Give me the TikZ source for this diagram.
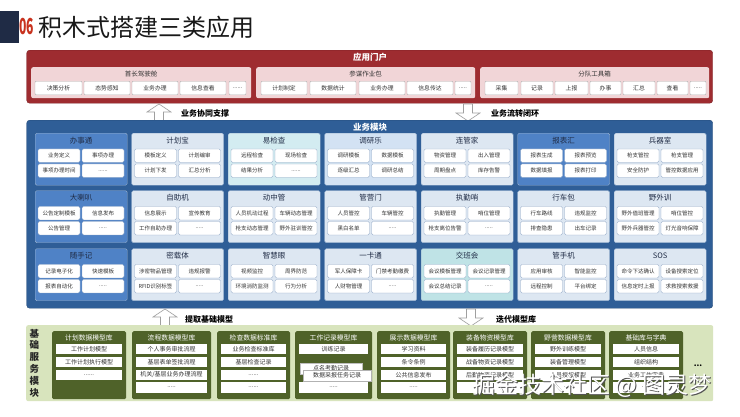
\documentclass[tikz,border=0pt]{standalone}
\usepackage{fontspec}
\setmainfont{Noto Sans CJK SC}
\usetikzlibrary{calc}
\definecolor{navy}{HTML}{1F2B45}
\definecolor{titlered}{HTML}{C8321E}
\definecolor{portalred}{HTML}{9E2C30}
\definecolor{portalpink}{HTML}{F1D5D7}
\definecolor{modblue}{HTML}{2F5E97}
\definecolor{modlight}{HTML}{DDE7F2}
\definecolor{modhl}{HTML}{4F82C6}
\definecolor{modteal}{HTML}{D3ECF1}
\definecolor{modteal2}{HTML}{BFE3E6}
\definecolor{modsky}{HTML}{D3E2F3}
\definecolor{basegreen}{HTML}{D8E4BD}
\definecolor{baseolive}{HTML}{4F6229}
\definecolor{txtgray}{HTML}{333333}
\definecolor{btnborder}{HTML}{8FA6C4}
\tikzset{
  pbtn/.style={draw=gray!60, fill=white, rounded corners=1pt, minimum height=13.5pt, inner sep=0pt, font=\fontsize{5.8}{6}\selectfont, text=txtgray},
  plabel/.style={font=\fontsize{6.5}{7}\selectfont, text=txtgray, inner sep=0pt},
  ppanel/.style={fill=portalpink, rounded corners=2pt, inner sep=0pt, anchor=north west, minimum height=31pt},
  modbox/.style={draw=modlight!60!modblue, line width=0.4pt, rounded corners=1.5pt, minimum width=92pt, minimum height=52pt, inner sep=0pt, anchor=north west},
  mlight/.style={modbox, fill=modlight},
  mhl/.style={modbox, fill=modhl},
  mteal/.style={modbox, fill=modteal},
  mteal2/.style={modbox, fill=modteal2},
  msky/.style={modbox, fill=modsky},
  mtitle/.style={font=\fontsize{7.5}{8}\selectfont, text=navy, inner sep=0pt},
  mbtn/.style={draw=btnborder, fill=white, rounded corners=1.5pt, minimum width=42pt, minimum height=13.5pt, inner sep=0pt, font=\fontsize{5.5}{6}\selectfont, text=txtgray},
  bbox/.style={fill=baseolive, rounded corners=1.5pt, inner sep=0pt, anchor=north west, minimum height=68pt},
  btitle/.style={text=white, font=\fontsize{6.8}{7}\selectfont, inner sep=0pt},
  bitem/.style={fill=white, minimum height=10.5pt, inner sep=0pt, font=\fontsize{6}{6}\selectfont, text=txtgray},
  barrow/.style={draw=gray!75, fill=white, line width=0.6pt},
  alabel/.style={font=\bfseries\fontsize{8}{8}\selectfont, text=black, inner sep=0pt, anchor=west},
  wmark/.style={font=\fontsize{23}{23}\selectfont, inner sep=0pt},
}
\newcommand\pb[4]{\node[pbtn, minimum width={#3pt-#2pt}] (#1) at ({(#2+#3)/2},88) {#4};}
\newcommand\bi[5]{\node[bitem, minimum width={#3pt-#2pt}] (#1) at ({(#2+#3)/2},#4) {#5};}
\newcommand\modul[9]{%
  \node[#4] (#1) at (#2,#3) {};
  \node[mtitle] (#1t) at ($(#1.north)+(0,7.5)$) {#5};
  \node[mbtn] (#1a) at ($(#1.north west)+(24,22.7)$) {#6};
  \node[mbtn] (#1b) at ($(#1.north west)+(68,22.7)$) {#7};
  \node[mbtn] (#1c) at ($(#1.north west)+(24,37.7)$) {#8};
  \node[mbtn] (#1d) at ($(#1.north west)+(68,37.7)$) {#9};
}
\newcommand\blockup[3]{\draw[barrow] (#1,#2) -- ({#1+12},{#2+8}) -- ({#1+4.5},{#2+8}) -- ({#1+4.5},#3) -- ({#1-4.5},#3) -- ({#1-4.5},{#2+8}) -- ({#1-12},{#2+8}) -- cycle;}
\newcommand\blockdown[3]{\draw[barrow] (#1,#3) -- ({#1+12},{#3-8}) -- ({#1+4.5},{#3-8}) -- ({#1+4.5},#2) -- ({#1-4.5},#2) -- ({#1-4.5},{#3-8}) -- ({#1-12},{#3-8}) -- cycle;}
\begin{document}
\begin{tikzpicture}[x=1pt,y=-1pt]
\useasboundingbox[fill=white] (0,0) rectangle (740,416);
% title
\fill[navy] (0,11) rectangle (19,43);
\node[text=titlered, font=\bfseries\fontsize{22}{22}\selectfont, inner sep=0pt, anchor=west, xscale=0.55, transform shape] (num) at (19.5,27) {06};
\node[font=\fontsize{24}{24}\selectfont, text=black!90, inner sep=0pt, anchor=west] (title) at (38,27) {积木式搭建三类应用};
% portal
\node[fill=portalred, draw=portalred!80!black, rounded corners=3pt, minimum width=686pt, minimum height=53pt, anchor=north west, inner sep=0pt] (portal) at (26.5,50) {};
\node[text=white, font=\bfseries\fontsize{8.5}{9}\selectfont, inner sep=0pt] (portalt) at (370,57.5) {应用门户};
\node[ppanel, minimum width=220pt] (pp1) at (31,67) {};
\node[ppanel, minimum width=219pt] (pp2) at (256,67) {};
\node[ppanel, minimum width=229pt] (pp3) at (480,67) {};
\node[plabel] (pp1t) at (141,74) {首长驾驶舱};
\node[plabel] (pp2t) at (365.5,74) {参谋作业包};
\node[plabel] (pp3t) at (594.5,74) {分队工具箱};
\pb{p1a}{35}{82}{决策分析}
\pb{p1b}{84}{130}{态势感知}
\pb{p1c}{132}{178}{业务办理}
\pb{p1d}{180}{226}{信息查看}
\pb{p1e}{229}{246}{......}
\pb{p2a}{261}{307}{计划制定}
\pb{p2b}{310}{356}{数据统计}
\pb{p2c}{359}{405}{业务办理}
\pb{p2d}{407}{453}{信息传达}
\pb{p2e}{455}{471}{.....}
\pb{p3a}{485}{518}{采集}
\pb{p3b}{521}{553}{记录}
\pb{p3c}{555}{588}{上报}
\pb{p3d}{590}{621}{办事}
\pb{p3e}{623}{655}{汇总}
\pb{p3f}{657}{688}{查看}
\pb{p3g}{690}{706}{.....}
% arrows top
\blockup{159}{104}{121}
\node[alabel] (a1) at (181,113) {业务协同支撑};
\blockdown{468}{104}{121}
\node[alabel] (a2) at (491,113) {业务流转闭环};
% module panel
\node[fill=modblue, draw=modblue!80!black, rounded corners=3pt, minimum width=686pt, minimum height=188pt, anchor=north west, inner sep=0pt] (mods) at (26.5,120) {};
\node[text=white, font=\bfseries\fontsize{8.5}{9}\selectfont, inner sep=0pt] (modst) at (370,127) {业务模块};
% row 1
\modul{m11}{35}{133}{mhl}{办事通}{业务定义}{事项办理}{事项办理时间}{......}
\modul{m12}{131.5}{133}{mlight}{计划宝}{模板定义}{计划编审}{计划下发}{汇总分析}
\modul{m13}{228}{133}{mteal}{易检查}{远程检查}{现场检查}{结果分析}{......}
\modul{m14}{324.5}{133}{msky}{调研乐}{调研模板}{数据模板}{逐级汇总}{调研总结}
\modul{m15}{421}{133}{mlight}{连管家}{物资管理}{出入管理}{周期盘点}{库存告警}
\modul{m16}{517.5}{133}{mhl}{报表汇}{报表生成}{报表预览}{数据填报}{报表打印}
\modul{m17}{614}{133}{mlight}{兵器室}{枪支管控}{枪支管理}{安全防护}{管控数据应用}
% row 2
\modul{m21}{35}{190.5}{mhl}{大喇叭}{公告定制模板}{信息发布}{公告管理}{.....}
\modul{m22}{131.5}{190.5}{mlight}{自助机}{信息展示}{宣传教育}{工作自助办理}{.....}
\modul{m23}{228}{190.5}{mlight}{动中管}{人员机动过程}{车辆动态管理}{枪支动态管理}{野外驻训管控}
\modul{m24}{324.5}{190.5}{mlight}{管营门}{人员管控}{车辆管控}{黑白名单}{.....}
\modul{m25}{421}{190.5}{mlight}{执勤哨}{执勤管理}{哨位管理}{枪支离位告警}{.....}
\modul{m26}{517.5}{190.5}{mlight}{行车包}{行车路线}{违规监控}{排查隐患}{出车记录}
\modul{m27}{614}{190.5}{mlight}{野外训}{野外值班管理}{哨位管控}{野外兵器管控}{灯光音响保障}
% row 3
\modul{m31}{35}{248.5}{mhl}{随手记}{记录电子化}{快速模板}{报表自动化}{.....}
\modul{m32}{131.5}{248.5}{mlight}{密载体}{涉密物品管理}{违规报警}{RFID识别标签}{.....}
\modul{m33}{228}{248.5}{mlight}{智慧眼}{视频监控}{周界防范}{环境消防监测}{行为分析}
\modul{m34}{324.5}{248.5}{mlight}{一卡通}{军人保障卡}{门禁考勤缴费}{人财物管理}{.....}
\modul{m35}{421}{248.5}{mteal2}{交班会}{会议模板管理}{会议记录管理}{会议总结记录}{.....}
\modul{m36}{517.5}{248.5}{mlight}{管手机}{应用审核}{智能监控}{远程控制}{平台绑定}
\modul{m37}{614}{248.5}{mlight}{SOS}{命令下达确认}{设备搜索定位}{信息定时上报}{求救搜索救援}
% arrows bottom
\blockup{165}{309}{326}
\node[alabel] (a3) at (185,319) {提取基础模型};
\blockdown{471}{309}{326}
\node[alabel] (a4) at (496,319) {迭代模型库};
% base panel
\node[fill=basegreen, rounded corners=2pt, minimum width=687pt, minimum height=76pt, anchor=north west, inner sep=0pt] (base) at (26,325) {};
\node[align=center, font=\bfseries\fontsize{9.5}{11.8}\selectfont, text=black!85, inner sep=0pt] (baset) at (34.5,363) {基\\础\\服\\务\\模\\块};
% base boxes
\node[bbox, minimum width=74pt] (b1) at (52,331) {};
\node[btitle] (b1t) at (89,338) {计划数据模型库};
\bi{b1a}{56}{122}{349}{工作计划模型}
\bi{b1b}{56}{122}{362}{工作计划执行模型}
\bi{b1c}{56}{122}{375}{......}
\node[bbox, minimum width=79pt] (b2) at (132,331) {};
\node[btitle] (b2t) at (171.5,338) {流程数据模型库};
\bi{b2a}{136}{207}{349}{个人事务审批流程}
\bi{b2b}{136}{207}{362}{基层表单签批流程}
\bi{b2c}{136}{207}{375}{机关/基层业务办理流程}
\bi{b2d}{136}{207}{387.5}{.....}
\node[bbox, minimum width=73pt] (b3) at (217,331) {};
\node[btitle] (b3t) at (253.5,338) {检查数据标准库};
\bi{b3a}{221}{286}{349}{业务检查标准库}
\bi{b3b}{221}{286}{362}{基层检查记录}
\bi{b3c}{221}{286}{375}{......}
\bi{b3d}{221}{286}{387.5}{......}
\node[bbox, minimum width=77pt] (b4) at (295,331) {};
\node[btitle] (b4t) at (333.5,338) {工作记录模型库};
\bi{b4a}{299}{368}{349}{训练记录}
\node[bitem, draw=gray!50, minimum width=62pt, minimum height=11pt, anchor=north west] (b4b) at (300,362.5) {点名考勤记录};
\node[bitem, draw=gray!60, minimum width=68pt, minimum height=11pt, anchor=north west] (b4c) at (303,369.5) {数据采报任务记录};
\bi{b4d}{299}{368}{387.5}{.....}
\node[bbox, minimum width=73pt] (b5) at (377,331) {};
\node[btitle] (b5t) at (413.5,338) {展示数据模型库};
\bi{b5a}{381}{446}{349}{学习资料}
\bi{b5b}{381}{446}{362}{条令条例}
\bi{b5c}{381}{446}{375}{公共信息发布}
\bi{b5d}{381}{446}{387.5}{.....}
\node[bbox, minimum width=74pt] (b6) at (453,331) {};
\node[btitle] (b6t) at (490,338) {装备物资模型库};
\bi{b6a}{457}{523}{349}{装备履历记录模型}
\bi{b6b}{457}{523}{362}{战备物资记录模型}
\bi{b6c}{457}{523}{375}{后勤物资记录模型}
\bi{b6d}{457}{523}{387.5}{.....}
\node[bbox, minimum width=74pt] (b7) at (531,331) {};
\node[btitle] (b7t) at (568,338) {野营数据模型库};
\bi{b7a}{535}{601}{349}{野外训练模型}
\bi{b7b}{535}{601}{362}{装备管理模型}
\bi{b7c}{535}{601}{375}{人员授权模型}
\bi{b7d}{535}{601}{387.5}{.....}
\node[bbox, minimum width=74pt] (b8) at (609,331) {};
\node[btitle] (b8t) at (646,338) {基础库与字典};
\bi{b8a}{613}{679}{349}{人员信息}
\bi{b8b}{613}{679}{362}{组织结构}
\bi{b8c}{613}{679}{375}{业务工作字典}
\bi{b8d}{613}{679}{387.5}{.....}
\node[font=\bfseries\fontsize{8}{8}\selectfont, inner sep=0pt] (bmore) at (698,366) {...};
% watermark
\node[wmark, text=gray!65!black] (wmshadow) at (593,387) {掘金技术社区 @ 图灵梦};
\node[wmark, text=white] (wm) at (592,386) {掘金技术社区 @ 图灵梦};
\end{tikzpicture}
\end{document}
